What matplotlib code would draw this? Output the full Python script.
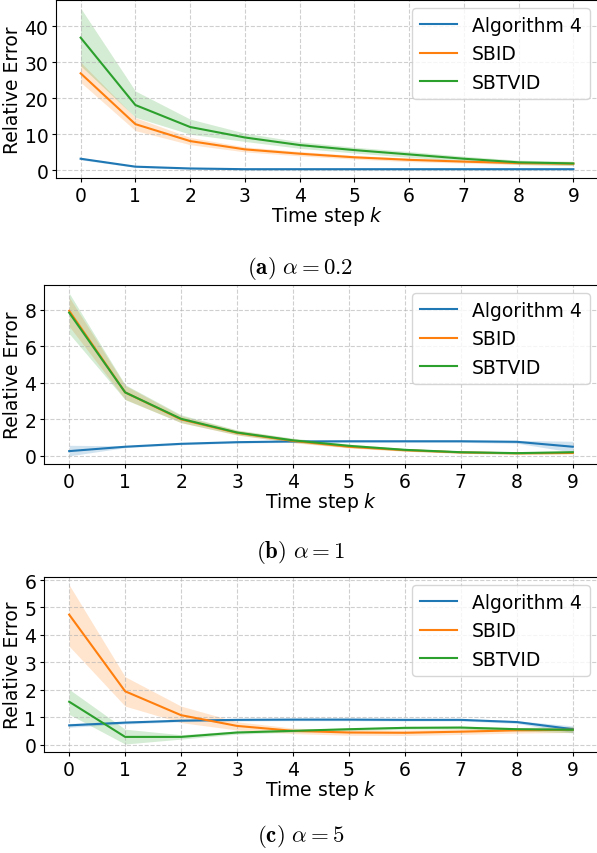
"""
Relative error over time steps for three alpha values,
Algorithm 4 vs SBID vs SBTVID, with shaded spread bands.
"""

import numpy as np
import matplotlib
matplotlib.use('Agg')
import matplotlib.pyplot as plt


# ── Data ──────────────────────────────────────────────────────────────────
steps = list(range(10))
method_names = ['Algorithm 4', 'SBID', 'SBTVID']
captions = [r'$\mathbf{(a)}\ \alpha = 0.2$',
            r'$\mathbf{(b)}\ \alpha = 1$',
            r'$\mathbf{(c)}\ \alpha = 5$']
yticks = [[0, 10, 20, 30, 40], [0, 2, 4, 6, 8], [0, 1, 2, 3, 4, 5, 6]]

# alpha = 0.2
a02_alg4      = [3.2, 1.0, 0.5, 0.3, 0.3, 0.3, 0.3, 0.3, 0.3, 0.3]
a02_alg4_lo   = [2.9, 0.8, 0.3, 0.1, 0.1, 0.1, 0.1, 0.1, 0.1, 0.1]
a02_alg4_hi   = [3.5, 1.2, 0.7, 0.5, 0.5, 0.5, 0.5, 0.5, 0.5, 0.5]
a02_sbid      = [26.9, 12.8, 8.1, 5.8, 4.6, 3.6, 2.9, 2.4, 2.0, 1.8]
a02_sbid_lo   = [24.4, 11.0, 7.1, 5.1, 4.0, 3.1, 2.4, 2.0, 1.6, 1.4]
a02_sbid_hi   = [30.0, 14.6, 9.1, 6.5, 5.2, 4.1, 3.4, 2.8, 2.4, 2.2]
a02_sbtvid    = [36.8, 18.1, 12.0, 9.1, 7.0, 5.6, 4.4, 3.2, 2.2, 1.9]
a02_sbtvid_lo = [29.0, 14.7, 10.0, 8.0, 6.1, 4.8, 3.6, 2.5, 1.6, 1.3]
a02_sbtvid_hi = [45.0, 22.0, 14.2, 10.3, 7.9, 6.4, 5.2, 3.9, 2.8, 2.5]

# alpha = 1
a1_alg4      = [0.26, 0.50, 0.66, 0.75, 0.79, 0.80, 0.80, 0.80, 0.77, 0.50]
a1_alg4_lo   = [0.00, 0.45, 0.61, 0.70, 0.74, 0.74, 0.74, 0.74, 0.69, 0.20]
a1_alg4_hi   = [0.58, 0.55, 0.71, 0.80, 0.84, 0.86, 0.86, 0.86, 0.85, 0.80]
a1_sbid      = [7.95, 3.48, 2.00, 1.26, 0.82, 0.50, 0.31, 0.19, 0.14, 0.16]
a1_sbid_lo   = [7.10, 3.10, 1.82, 1.14, 0.72, 0.43, 0.25, 0.14, 0.09, 0.10]
a1_sbid_hi   = [8.70, 3.86, 2.20, 1.40, 0.94, 0.59, 0.38, 0.25, 0.20, 0.22]
a1_sbtvid    = [7.85, 3.48, 2.03, 1.28, 0.85, 0.55, 0.33, 0.20, 0.15, 0.20]
a1_sbtvid_lo = [6.70, 3.08, 1.82, 1.15, 0.74, 0.46, 0.26, 0.14, 0.09, 0.13]
a1_sbtvid_hi = [8.92, 3.90, 2.25, 1.42, 0.97, 0.64, 0.41, 0.27, 0.22, 0.28]

# alpha = 5
a5_alg4      = [0.71, 0.81, 0.88, 0.91, 0.92, 0.92, 0.91, 0.91, 0.83, 0.57]
a5_alg4_lo   = [0.64, 0.76, 0.84, 0.87, 0.88, 0.88, 0.87, 0.87, 0.78, 0.45]
a5_alg4_hi   = [0.78, 0.86, 0.92, 0.95, 0.96, 0.96, 0.95, 0.95, 0.88, 0.69]
a5_sbid      = [4.74, 1.95, 1.08, 0.69, 0.51, 0.45, 0.44, 0.48, 0.53, 0.55]
a5_sbid_lo   = [3.59, 1.41, 0.81, 0.54, 0.41, 0.35, 0.34, 0.38, 0.43, 0.45]
a5_sbid_hi   = [5.82, 2.48, 1.41, 0.84, 0.61, 0.55, 0.54, 0.58, 0.63, 0.65]
a5_sbtvid    = [1.57, 0.29, 0.29, 0.45, 0.51, 0.57, 0.62, 0.63, 0.57, 0.55]
a5_sbtvid_lo = [1.11, 0.03, 0.21, 0.39, 0.46, 0.52, 0.57, 0.58, 0.51, 0.44]
a5_sbtvid_hi = [2.02, 0.57, 0.37, 0.51, 0.56, 0.62, 0.67, 0.68, 0.63, 0.66]

panels = [
    [(a02_alg4, a02_alg4_lo, a02_alg4_hi),
     (a02_sbid, a02_sbid_lo, a02_sbid_hi),
     (a02_sbtvid, a02_sbtvid_lo, a02_sbtvid_hi)],
    [(a1_alg4, a1_alg4_lo, a1_alg4_hi),
     (a1_sbid, a1_sbid_lo, a1_sbid_hi),
     (a1_sbtvid, a1_sbtvid_lo, a1_sbtvid_hi)],
    [(a5_alg4, a5_alg4_lo, a5_alg4_hi),
     (a5_sbid, a5_sbid_lo, a5_sbid_hi),
     (a5_sbtvid, a5_sbtvid_lo, a5_sbtvid_hi)],
]
colors = ['#1f77b4', '#ff7f0e', '#2ca02c']


# ── Layout (pixel boxes of the three axes in a 597x854 canvas) ────────────
W, H = 597, 854
boxes = [(56, 1, 179), (44, 286, 465), (44, 578, 753)]   # left, top, bottom
caption_y = [268, 553, 837]
FS = 13.5

fig = plt.figure(figsize=(W / 100, H / 100), dpi=100)

for i, series in enumerate(panels):
    left, top, bottom = boxes[i]
    ax = fig.add_axes([left / W, 1 - bottom / H, (W + 1 - left) / W, (bottom - top) / H])
    for (mean, lo, hi), name, c in zip(series, method_names, colors):
        ax.plot(steps, mean, color=c, lw=1.5, label=name)
        ax.fill_between(steps, lo, hi, color=c, alpha=0.2, lw=0)
    ax.grid(True, ls='--', color='#b0b0b0', alpha=0.6, lw=0.8)
    ax.set_xticks(steps)
    ax.set_yticks(yticks[i])
    ax.tick_params(labelsize=FS, length=3, pad=2.5)
    ax.set_xlabel('Time step $k$', fontsize=FS, labelpad=-0.5)
    ax.set_ylabel('Relative Error', fontsize=FS, labelpad=2)
    ax.legend(loc='upper right', fontsize=FS, borderaxespad=0.45)
    fig.text(0.503, 1 - caption_y[i] / H, captions[i], ha='center', va='center',
             fontsize=16.5, math_fontfamily='cm')

plt.savefig('out.png', dpi=100)
plt.close()
